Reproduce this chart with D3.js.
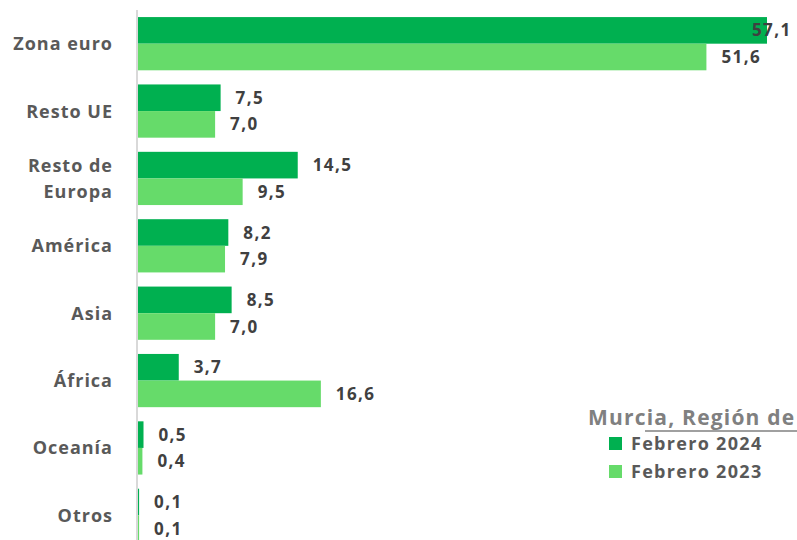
<!DOCTYPE html>
<html>
<head>
<meta charset="utf-8">
<script src="https://cdn.jsdelivr.net/npm/d3@7"></script>
<style>
  body { margin: 0; background: #fff; }
  svg { display: block; font-family: "Open Sans", sans-serif; }
</style>
</head>
<body>
<div id="chart"></div>
<script>
// data
const categories = ["Zona euro", "Resto UE", "Resto de Europa", "América", "Asia", "África", "Oceanía", "Otros"];
const series = ["Febrero 2024", "Febrero 2023"];
const values2024 = [57.1, 7.5, 14.5, 8.2, 8.5, 3.7, 0.5, 0.1];
const values2023 = [51.6, 7.0, 9.5, 7.9, 7.0, 16.6, 0.4, 0.1];
const legendTitle = "Murcia, Región de";

const w = 797, h = 540;
const x0 = 138;

const svg = d3.select("#chart").append("svg")
    .attr("width", w)
    .attr("height", h);

const data = categories.map(function(c, i) {
    return {cat: c, "Febrero 2024": values2024[i], "Febrero 2023": values2023[i]};
});

const xScale = d3.scaleLinear()
    .domain([0, 57.1])
    .range([x0, 767]);

const yScale = d3.scaleBand()
    .domain(categories)
    .range([10, 549])
    .paddingInner(0.21)
    .paddingOuter(0.105);

const ySub = d3.scaleBand()
    .domain(series)
    .range([0, yScale.bandwidth()]);

const color = d3.scaleOrdinal()
    .domain(series)
    .range(["#00b050", "#66db6a"]);

// bars
const groups = svg.append("g")
    .selectAll("g")
    .data(data)
    .enter()
    .append("g")
    .attr("transform", function(d) { return `translate(0,${yScale(d.cat)})`; });

const cells = groups.selectAll("g")
    .data(function(d) {
        return series.map(function(s) { return {cat: d.cat, s: s, value: d[s]}; });
    })
    .enter()
    .append("g");

cells.append("rect")
    .attr("x", x0)
    .attr("y", function(d) { return ySub(d.s); })
    .attr("width", function(d) { return xScale(d.value) - x0; })
    .attr("height", ySub.bandwidth())
    .attr("fill", function(d) { return color(d.s); });

// value labels
cells.append("text")
    .attr("x", function(d) { return Math.min(xScale(d.value) + 15, 752); })
    .attr("y", function(d) { return ySub(d.s) + ySub.bandwidth() / 2; })
    .attr("dy", "0.36em")
    .attr("fill", "#404040")
    .style("font-weight", "bold")
    .style("font-size", "17px")
    .style("letter-spacing", "1.4px")
    .text(function(d) { return d3.format(".1f")(d.value).replace(".", ","); });

// y axis line
svg.append("line")
    .attr("x1", 137).attr("x2", 137)
    .attr("y1", 10).attr("y2", h)
    .attr("stroke", "#d9d9d9")
    .attr("stroke-width", 2);

// category labels
const catLabels = svg.append("g")
    .selectAll("text")
    .data(categories)
    .enter()
    .append("text")
    .attr("text-anchor", "end")
    .attr("x", 113)
    .attr("y", function(d) { return yScale(d) + yScale.bandwidth() / 2; })
    .attr("fill", "#595959")
    .style("font-weight", "bold")
    .style("font-size", "18px")
    .style("letter-spacing", "1px");

catLabels.each(function(d) {
    const t = d3.select(this);
    if (d == "Resto de Europa") {
        t.append("tspan").attr("x", 113).attr("dy", "-0.38em").text("Resto de");
        t.append("tspan").attr("x", 113).attr("dy", "1.45em").text("Europa");
    } else {
        t.attr("dy", "0.36em").text(d);
    }
});

// legend
svg.append("text")
    .attr("x", 588)
    .attr("y", 425)
    .attr("fill", "#808080")
    .style("font-weight", "bold")
    .style("font-size", "21px")
    .style("letter-spacing", "1.2px")
    .text(legendTitle);

svg.append("line")
    .attr("x1", 645).attr("x2", 797)
    .attr("y1", 431).attr("y2", 431)
    .attr("stroke", "#808080")
    .attr("stroke-width", 1.5);

const legend = svg.append("g")
    .selectAll("g")
    .data(series)
    .enter()
    .append("g")
    .attr("transform", function(d, i) { return `translate(609,${437 + i * 28})`; });

legend.append("rect")
    .attr("width", 13)
    .attr("height", 13)
    .attr("fill", function(d) { return color(d); });

legend.append("text")
    .attr("x", 22)
    .attr("y", 7)
    .attr("dy", "0.36em")
    .attr("fill", "#595959")
    .style("font-weight", "bold")
    .style("font-size", "18px")
    .style("letter-spacing", "1.3px")
    .text(function(d) { return d; });
</script>
</body>
</html>
